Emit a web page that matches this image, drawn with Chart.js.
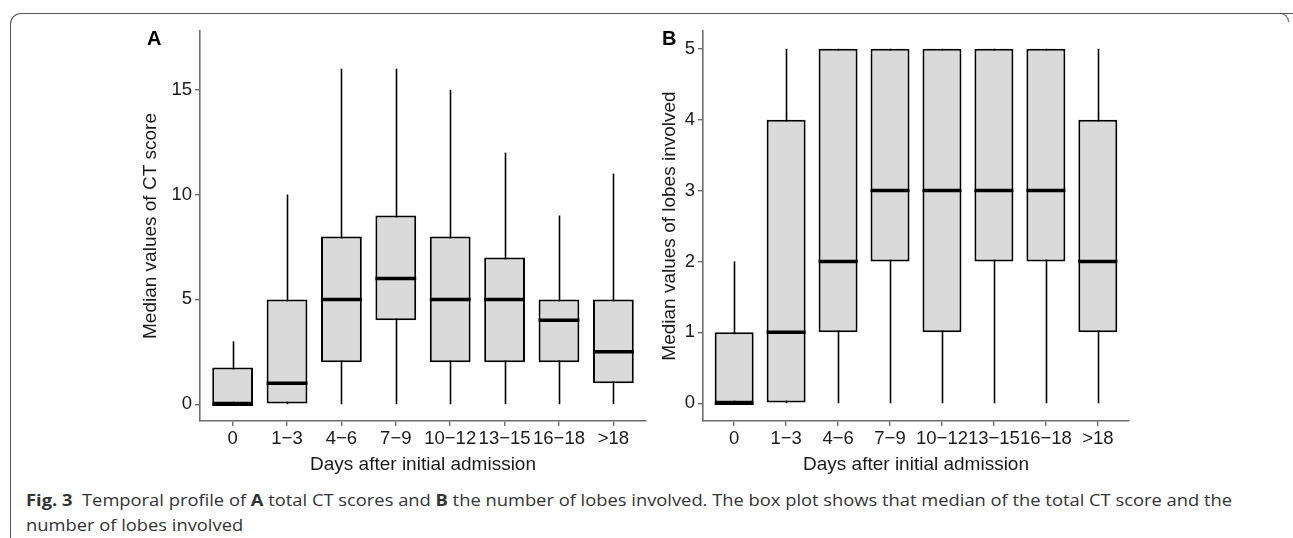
<!DOCTYPE html>
<html>
<head>
<meta charset="utf-8">
<script src="https://cdn.jsdelivr.net/npm/chart.js@4.4.1/dist/chart.umd.min.js"></script>
<style>
  html, body { margin: 0; padding: 0; background: #fff; }
  body { width: 1293px; height: 538px; position: relative; overflow: hidden; }
  .frame { position: absolute; left: 10px; top: 13px; width: 1290px; height: 600px;
           border-top: 1.3px solid #555; border-left: 1.3px solid #555; border-top-left-radius: 11px; }
  .corner { position: absolute; left: 1276px; top: 13px; width: 12px; height: 8px;
            border-top: 1.3px solid #555; border-right: 1.3px solid #555; border-top-right-radius: 10px; }
  .panel { position: absolute; }
  .letter { position: absolute; font: bold 20px "Liberation Sans", Arial, sans-serif; color: #000; }
  .caption { position: absolute; left: 26px; top: 488px; font: 16px "Open Sans", sans-serif; color: #333;
             line-height: 25px; white-space: nowrap; }
  .caption span { display: inline-block; transform-origin: left center; }
  .warm { position: absolute; left: -999px; font: 18px "Liberation Sans"; }
</style>
</head>
<body>
<div class="frame"></div>
<div class="corner"></div>
<div class="warm">Days after initial admission 0123456789</div>

<div class="panel" style="left:135px; top:0; width:528px; height:480px;"><canvas id="chartA"></canvas></div>
<div class="panel" style="left:654px; top:0; width:492px; height:480px;"><canvas id="chartB"></canvas></div>
<div class="letter" style="left:147px; top:27px;">A</div>
<div class="letter" style="left:662px; top:27px;">B</div>

<div class="caption">
  <span id="cap1"><b>Fig. 3</b>&nbsp; Temporal profile of <b>A</b> total CT scores and <b>B</b> the number of lobes involved. The box plot shows that median of the total CT score and the</span><br>
  <span id="cap2">number of lobes involved</span>
</div>

<script>
// categories (days after admission)
const categories = ['0', '1\u22123', '4\u22126', '7\u22129', '10\u221212', '13\u221215', '16\u221218', '>18'];

// panel A: total CT score
const ctMin    = [0, 0, 0, 0, 0, 0, 0, 0];
const ctQ1     = [0, 0, 2, 4, 2, 2, 2, 1];
const ctMedian = [0, 1, 5, 6, 5, 5, 4, 2.5];
const ctQ3     = [1.75, 5, 8, 9, 8, 7, 5, 5];
const ctMax    = [3, 10, 16, 16, 15, 12, 9, 11];
const ctTicks  = [0, 5, 10, 15];

// panel B: number of lobes involved
const lobesMin    = [0, 0, 0, 0, 0, 0, 0, 0];
const lobesQ1     = [0, 0, 1, 2, 1, 2, 2, 1];
const lobesMedian = [0, 1, 2, 3, 3, 3, 3, 2];
const lobesQ3     = [1, 4, 5, 5, 5, 5, 5, 4];
const lobesMax    = [2, 5, 5, 5, 5, 5, 5, 5];
const lobesTicks  = [0, 1, 2, 3, 4, 5];

Chart.defaults.font.family = "'Liberation Sans', Arial, sans-serif";
Chart.defaults.color = '#1a1a1a';

// whiskers behind the boxes, medians on top
const boxParts = {
    id: 'boxParts',
    beforeDatasetsDraw(chart, args, opts) {
        const ctx = chart.ctx, x = chart.scales.x, y = chart.scales.y;
        ctx.save();
        ctx.strokeStyle = '#000';
        ctx.lineWidth = 1.6;
        opts.min.forEach((v, i) => {
            const px = Math.round(x.getPixelForValue(i + 1)) + 0.5;
            ctx.beginPath();
            ctx.moveTo(px, y.getPixelForValue(v));
            ctx.lineTo(px, y.getPixelForValue(opts.max[i]));
            ctx.stroke();
        });
        ctx.restore();
    },
    afterDatasetsDraw(chart, args, opts) {
        const ctx = chart.ctx, x = chart.scales.x, y = chart.scales.y;
        const bars = chart.getDatasetMeta(0).data;
        ctx.save();
        ctx.strokeStyle = '#000';
        ctx.lineWidth = 3.5;
        opts.median.forEach((v, i) => {
            const px = x.getPixelForValue(i + 1);
            const half = bars[i].width / 2;
            const py = y.getPixelForValue(v);
            ctx.beginPath();
            ctx.moveTo(px - half, py);
            ctx.lineTo(px + half, py);
            ctx.stroke();
        });
        ctx.restore();
    }
};

function makeBoxChart(id, q1, q3, mins, maxs, medians, yMin, yMax, yTicks, yTitle, yWidth, padRight) {
    const ctx = document.getElementById(id).getContext('2d');
    return new Chart(ctx, {
        type: 'bar',
        data: {
            datasets: [{
                data: categories.map((c, i) => ({ x: i + 1, y: [q1[i], q3[i]] })),
                backgroundColor: '#d9dad9',
                borderColor: '#000',
                borderWidth: 2,
                borderSkipped: false,
                barPercentage: 0.75,
                categoryPercentage: 1
            }]
        },
        options: {
            responsive: true,
            maintainAspectRatio: false,
            animation: false,
            layout: { padding: { top: 31, right: padRight, bottom: 0, left: 0 } },
            scales: {
                x: {
                    type: 'linear',
                    min: 0.4,
                    max: 8.6,
                    offset: false,
                    afterBuildTicks: s => { s.ticks = categories.map((c, i) => ({ value: i + 1 })); },
                    afterFit: s => { s.height = 59; },
                    ticks: {
                        callback: (v) => categories[v - 1],
                        font: { size: 18.5 },
                        color: '#1a1a1a',
                        padding: 2,
                        maxRotation: 0,
                        autoSkip: false
                    },
                    grid: { display: true, drawOnChartArea: false, tickLength: 5, color: '#6e6e6e', lineWidth: 1.4, offset: false },
                    border: { display: true, color: '#6e6e6e', width: 1.6 },
                    title: { display: true, text: 'Days after initial admission', font: { size: 19 }, color: '#1a1a1a', padding: { top: 0, bottom: 4 } }
                },
                y: {
                    min: yMin,
                    max: yMax,
                    afterBuildTicks: s => { s.ticks = yTicks.map(v => ({ value: v })); },
                    afterFit: s => { s.width = yWidth; },
                    ticks: { font: { size: 18.5 }, color: '#1a1a1a', padding: 3 },
                    grid: { display: true, drawOnChartArea: false, tickLength: 5, color: '#6e6e6e', lineWidth: 1.4 },
                    border: { display: true, color: '#6e6e6e', width: 1.6 },
                    title: { display: true, text: yTitle, font: { size: 19 }, color: '#1a1a1a', padding: { top: 4, bottom: 0 } }
                }
            },
            plugins: {
                legend: { display: false },
                tooltip: { enabled: false },
                boxParts: { min: mins, max: maxs, median: medians }
            }
        },
        plugins: [boxParts]
    });
}

function drawAll() {
    makeBoxChart('chartA', ctQ1, ctQ3, ctMin, ctMax, ctMedian, -0.8, 17.8, ctTicks,
        'Median values of CT score', 65, 17);
    makeBoxChart('chartB', lobesQ1, lobesQ3, lobesMin, lobesMax, lobesMedian, -0.25, 5.25, lobesTicks,
        'Median values of lobes involved', 49, 17);

    // squeeze the caption to the condensed width of the original
    const cap1 = document.getElementById('cap1');
    const cap2 = document.getElementById('cap2');
    const k = 1206 / cap1.getBoundingClientRect().width;
    cap1.style.transform = 'scaleX(' + k + ')';
    cap2.style.transform = 'scaleX(' + k + ')';
}

document.fonts.load("18px 'Liberation Sans'").then(drawAll, drawAll);
</script>
</body>
</html>
